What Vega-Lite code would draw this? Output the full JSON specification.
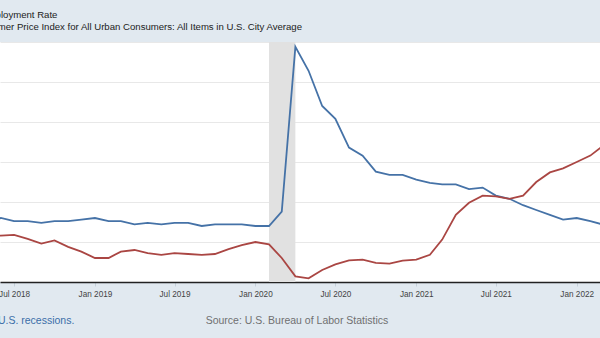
{
  "$schema": "https://vega.github.io/schema/vega-lite/v6.json",
  "width": 600,
  "height": 240,
  "autosize": {"type": "none"},
  "padding": {"left": 0, "right": 0, "top": 42, "bottom": 56},
  "background": "#e1e9f0",
  "config": {
    "view": {"fill": "white", "stroke": null},
    "font": "Liberation Sans"
  },
  "title": {
    "text": "Shaded areas indicate U.S. recessions.",
    "orient": "bottom",
    "anchor": "start",
    "frame": "group",
    "dx": -109.5,
    "offset": -10,
    "fontSize": 10.5,
    "fontWeight": "normal",
    "color": "#3b6ea8",
    "font": "Liberation Sans"
  },
  "datasets": {
    "recessions": [{"start": "2020-02-01", "end": "2020-04-01"}],
    "series": [
      {"date": "2018-05-01", "series": "Unemployment Rate", "value": 3.8},
      {"date": "2018-06-01", "series": "Unemployment Rate", "value": 4.0},
      {"date": "2018-07-01", "series": "Unemployment Rate", "value": 3.8},
      {"date": "2018-08-01", "series": "Unemployment Rate", "value": 3.8},
      {"date": "2018-09-01", "series": "Unemployment Rate", "value": 3.7},
      {"date": "2018-10-01", "series": "Unemployment Rate", "value": 3.8},
      {"date": "2018-11-01", "series": "Unemployment Rate", "value": 3.8},
      {"date": "2018-12-01", "series": "Unemployment Rate", "value": 3.9},
      {"date": "2019-01-01", "series": "Unemployment Rate", "value": 4.0},
      {"date": "2019-02-01", "series": "Unemployment Rate", "value": 3.8},
      {"date": "2019-03-01", "series": "Unemployment Rate", "value": 3.8},
      {"date": "2019-04-01", "series": "Unemployment Rate", "value": 3.6},
      {"date": "2019-05-01", "series": "Unemployment Rate", "value": 3.7},
      {"date": "2019-06-01", "series": "Unemployment Rate", "value": 3.6},
      {"date": "2019-07-01", "series": "Unemployment Rate", "value": 3.7},
      {"date": "2019-08-01", "series": "Unemployment Rate", "value": 3.7},
      {"date": "2019-09-01", "series": "Unemployment Rate", "value": 3.5},
      {"date": "2019-10-01", "series": "Unemployment Rate", "value": 3.6},
      {"date": "2019-11-01", "series": "Unemployment Rate", "value": 3.6},
      {"date": "2019-12-01", "series": "Unemployment Rate", "value": 3.6},
      {"date": "2020-01-01", "series": "Unemployment Rate", "value": 3.5},
      {"date": "2020-02-01", "series": "Unemployment Rate", "value": 3.5},
      {"date": "2020-03-01", "series": "Unemployment Rate", "value": 4.4},
      {"date": "2020-04-01", "series": "Unemployment Rate", "value": 14.7},
      {"date": "2020-05-01", "series": "Unemployment Rate", "value": 13.2},
      {"date": "2020-06-01", "series": "Unemployment Rate", "value": 11.0},
      {"date": "2020-07-01", "series": "Unemployment Rate", "value": 10.2},
      {"date": "2020-08-01", "series": "Unemployment Rate", "value": 8.4},
      {"date": "2020-09-01", "series": "Unemployment Rate", "value": 7.9},
      {"date": "2020-10-01", "series": "Unemployment Rate", "value": 6.9},
      {"date": "2020-11-01", "series": "Unemployment Rate", "value": 6.7},
      {"date": "2020-12-01", "series": "Unemployment Rate", "value": 6.7},
      {"date": "2021-01-01", "series": "Unemployment Rate", "value": 6.4},
      {"date": "2021-02-01", "series": "Unemployment Rate", "value": 6.2},
      {"date": "2021-03-01", "series": "Unemployment Rate", "value": 6.1},
      {"date": "2021-04-01", "series": "Unemployment Rate", "value": 6.1},
      {"date": "2021-05-01", "series": "Unemployment Rate", "value": 5.8},
      {"date": "2021-06-01", "series": "Unemployment Rate", "value": 5.9},
      {"date": "2021-07-01", "series": "Unemployment Rate", "value": 5.4},
      {"date": "2021-08-01", "series": "Unemployment Rate", "value": 5.2},
      {"date": "2021-09-01", "series": "Unemployment Rate", "value": 4.8},
      {"date": "2021-10-01", "series": "Unemployment Rate", "value": 4.5},
      {"date": "2021-11-01", "series": "Unemployment Rate", "value": 4.2},
      {"date": "2021-12-01", "series": "Unemployment Rate", "value": 3.9},
      {"date": "2022-01-01", "series": "Unemployment Rate", "value": 4.0},
      {"date": "2022-02-01", "series": "Unemployment Rate", "value": 3.8},
      {"date": "2022-03-01", "series": "Unemployment Rate", "value": 3.6},
      {"date": "2018-05-01", "series": "Consumer Price Index for All Urban Consumers: All Items in U.S. City Average", "value": 2.8},
      {"date": "2018-06-01", "series": "Consumer Price Index for All Urban Consumers: All Items in U.S. City Average", "value": 2.9},
      {"date": "2018-07-01", "series": "Consumer Price Index for All Urban Consumers: All Items in U.S. City Average", "value": 2.95},
      {"date": "2018-08-01", "series": "Consumer Price Index for All Urban Consumers: All Items in U.S. City Average", "value": 2.7},
      {"date": "2018-09-01", "series": "Consumer Price Index for All Urban Consumers: All Items in U.S. City Average", "value": 2.4},
      {"date": "2018-10-01", "series": "Consumer Price Index for All Urban Consumers: All Items in U.S. City Average", "value": 2.6},
      {"date": "2018-11-01", "series": "Consumer Price Index for All Urban Consumers: All Items in U.S. City Average", "value": 2.2},
      {"date": "2018-12-01", "series": "Consumer Price Index for All Urban Consumers: All Items in U.S. City Average", "value": 1.9},
      {"date": "2019-01-01", "series": "Consumer Price Index for All Urban Consumers: All Items in U.S. City Average", "value": 1.5},
      {"date": "2019-02-01", "series": "Consumer Price Index for All Urban Consumers: All Items in U.S. City Average", "value": 1.5},
      {"date": "2019-03-01", "series": "Consumer Price Index for All Urban Consumers: All Items in U.S. City Average", "value": 1.9},
      {"date": "2019-04-01", "series": "Consumer Price Index for All Urban Consumers: All Items in U.S. City Average", "value": 2.0},
      {"date": "2019-05-01", "series": "Consumer Price Index for All Urban Consumers: All Items in U.S. City Average", "value": 1.8},
      {"date": "2019-06-01", "series": "Consumer Price Index for All Urban Consumers: All Items in U.S. City Average", "value": 1.7},
      {"date": "2019-07-01", "series": "Consumer Price Index for All Urban Consumers: All Items in U.S. City Average", "value": 1.8},
      {"date": "2019-08-01", "series": "Consumer Price Index for All Urban Consumers: All Items in U.S. City Average", "value": 1.75},
      {"date": "2019-09-01", "series": "Consumer Price Index for All Urban Consumers: All Items in U.S. City Average", "value": 1.7},
      {"date": "2019-10-01", "series": "Consumer Price Index for All Urban Consumers: All Items in U.S. City Average", "value": 1.75},
      {"date": "2019-11-01", "series": "Consumer Price Index for All Urban Consumers: All Items in U.S. City Average", "value": 2.05},
      {"date": "2019-12-01", "series": "Consumer Price Index for All Urban Consumers: All Items in U.S. City Average", "value": 2.3},
      {"date": "2020-01-01", "series": "Consumer Price Index for All Urban Consumers: All Items in U.S. City Average", "value": 2.5},
      {"date": "2020-02-01", "series": "Consumer Price Index for All Urban Consumers: All Items in U.S. City Average", "value": 2.35},
      {"date": "2020-03-01", "series": "Consumer Price Index for All Urban Consumers: All Items in U.S. City Average", "value": 1.5},
      {"date": "2020-04-01", "series": "Consumer Price Index for All Urban Consumers: All Items in U.S. City Average", "value": 0.35},
      {"date": "2020-05-01", "series": "Consumer Price Index for All Urban Consumers: All Items in U.S. City Average", "value": 0.23},
      {"date": "2020-06-01", "series": "Consumer Price Index for All Urban Consumers: All Items in U.S. City Average", "value": 0.75},
      {"date": "2020-07-01", "series": "Consumer Price Index for All Urban Consumers: All Items in U.S. City Average", "value": 1.1},
      {"date": "2020-08-01", "series": "Consumer Price Index for All Urban Consumers: All Items in U.S. City Average", "value": 1.35},
      {"date": "2020-09-01", "series": "Consumer Price Index for All Urban Consumers: All Items in U.S. City Average", "value": 1.4},
      {"date": "2020-10-01", "series": "Consumer Price Index for All Urban Consumers: All Items in U.S. City Average", "value": 1.2},
      {"date": "2020-11-01", "series": "Consumer Price Index for All Urban Consumers: All Items in U.S. City Average", "value": 1.15},
      {"date": "2020-12-01", "series": "Consumer Price Index for All Urban Consumers: All Items in U.S. City Average", "value": 1.33},
      {"date": "2021-01-01", "series": "Consumer Price Index for All Urban Consumers: All Items in U.S. City Average", "value": 1.4},
      {"date": "2021-02-01", "series": "Consumer Price Index for All Urban Consumers: All Items in U.S. City Average", "value": 1.7},
      {"date": "2021-03-01", "series": "Consumer Price Index for All Urban Consumers: All Items in U.S. City Average", "value": 2.65},
      {"date": "2021-04-01", "series": "Consumer Price Index for All Urban Consumers: All Items in U.S. City Average", "value": 4.2},
      {"date": "2021-05-01", "series": "Consumer Price Index for All Urban Consumers: All Items in U.S. City Average", "value": 4.95},
      {"date": "2021-06-01", "series": "Consumer Price Index for All Urban Consumers: All Items in U.S. City Average", "value": 5.4},
      {"date": "2021-07-01", "series": "Consumer Price Index for All Urban Consumers: All Items in U.S. City Average", "value": 5.35},
      {"date": "2021-08-01", "series": "Consumer Price Index for All Urban Consumers: All Items in U.S. City Average", "value": 5.2},
      {"date": "2021-09-01", "series": "Consumer Price Index for All Urban Consumers: All Items in U.S. City Average", "value": 5.4},
      {"date": "2021-10-01", "series": "Consumer Price Index for All Urban Consumers: All Items in U.S. City Average", "value": 6.25},
      {"date": "2021-11-01", "series": "Consumer Price Index for All Urban Consumers: All Items in U.S. City Average", "value": 6.85},
      {"date": "2021-12-01", "series": "Consumer Price Index for All Urban Consumers: All Items in U.S. City Average", "value": 7.1},
      {"date": "2022-01-01", "series": "Consumer Price Index for All Urban Consumers: All Items in U.S. City Average", "value": 7.5},
      {"date": "2022-02-01", "series": "Consumer Price Index for All Urban Consumers: All Items in U.S. City Average", "value": 7.9},
      {"date": "2022-03-01", "series": "Consumer Price Index for All Urban Consumers: All Items in U.S. City Average", "value": 8.5}
    ]
  },
  "layer": [
    {
      "data": {"name": "recessions"},
      "mark": {"type": "rect", "color": "#e1e1e1", "clip": true},
      "encoding": {
        "x": {"field": "start", "type": "temporal"},
        "x2": {"field": "end"}
      }
    },
    {
      "data": {"name": "series"},
      "mark": {"type": "line", "strokeWidth": 1.8, "clip": true},
      "encoding": {
        "x": {
          "field": "date",
          "type": "temporal",
          "scale": {"domain": ["2018-05-30", "2022-02-23"]},
          "axis": {
            "title": "Source: U.S. Bureau of Labor Statistics",
            "titleFontSize": 10.5,
            "titleFontWeight": "normal",
            "titleColor": "#707070",
            "titleX": 296.5,
            "titlePadding": 18,
            "format": "%b %Y",
            "tickCount": {"interval": "month", "step": 6},
            "labelFontSize": 8.2,
            "labelColor": "#444",
            "labelPadding": 4,
            "tickSize": 4,
            "tickColor": "#c5d0da",
            "domainColor": "#222",
            "domainWidth": 1.5,
            "grid": false
          }
        },
        "y": {
          "field": "value",
          "type": "quantitative",
          "scale": {"domain": [0, 15]},
          "axis": {
            "title": null,
            "labels": false,
            "ticks": false,
            "domain": false,
            "values": [2.5, 5, 7.5, 10, 12.5, 15],
            "gridColor": "#e8e8e8",
            "gridWidth": 1
          }
        },
        "color": {
          "field": "series",
          "type": "nominal",
          "sort": ["Unemployment Rate", "Consumer Price Index for All Urban Consumers: All Items in U.S. City Average"],
          "scale": {
            "domain": ["Unemployment Rate", "Consumer Price Index for All Urban Consumers: All Items in U.S. City Average"],
            "range": ["#4572a7", "#aa4643"]
          },
          "legend": {
            "title": null,
            "orient": "none",
            "legendX": -47,
            "legendY": -33,
            "direction": "vertical",
            "symbolType": "stroke",
            "symbolStrokeWidth": 2,
            "symbolSize": 100,
            "labelFontSize": 9.6,
            "labelColor": "#222",
            "labelLimit": 600,
            "labelOffset": 5,
            "padding": 0,
            "rowPadding": 0.5
          }
        }
      }
    }
  ]
}
